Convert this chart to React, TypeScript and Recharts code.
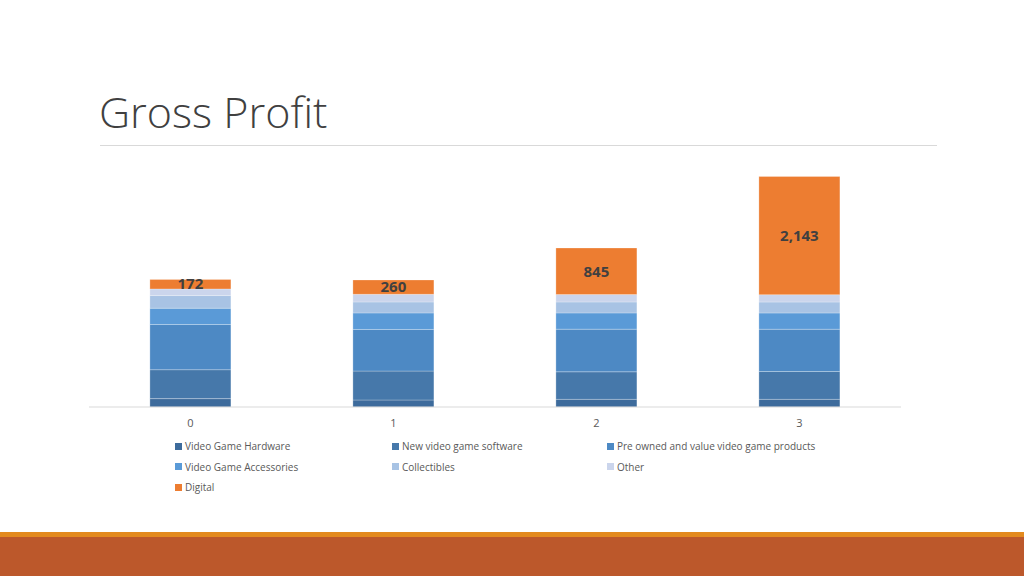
import { BarChart, Bar, XAxis, YAxis, Legend, LabelList } from 'recharts';

const years = ['0', '1', '2', '3'];
const hardware = [152, 127, 139, 139];
const newSoftware = [525, 525, 500, 505];
const preOwned = [820, 755, 773, 767];
const accessories = [295, 300, 295, 295];
const collectibles = [230, 199, 199, 199];
const other = [121, 139, 134, 134];
const digital = [172, 260, 845, 2143];

const seriesList = [
  { key: 'hardware', name: 'Video Game Hardware', color: '#3D6B9C', values: hardware },
  { key: 'newSoftware', name: 'New video game software', color: '#4678AA', values: newSoftware },
  { key: 'preOwned', name: 'Pre owned and value video game products', color: '#4D89C4', values: preOwned },
  { key: 'accessories', name: 'Video Game Accessories', color: '#5A9AD7', values: accessories },
  { key: 'collectibles', name: 'Collectibles', color: '#A8C3E4', values: collectibles },
  { key: 'other', name: 'Other', color: '#CBD5EC', values: other },
  { key: 'digital', name: 'Digital', color: '#ED7D31', values: digital },
];

const data = years.map((year, i) => {
  const row: Record<string, string | number> = { year };
  seriesList.forEach((s) => {
    row[s.key] = s.values[i];
  });
  return row;
});

const fmt = (v: number) => v.toLocaleString('en-US');

const LegendGrid = () => (
  <div
    style={{
      display: 'grid',
      gridTemplateColumns: '217px 215px 260px',
      paddingLeft: 86,
      marginTop: -1,
      fontFamily: '"Open Sans", sans-serif',
      fontSize: 10,
      color: '#595959',
      lineHeight: '20.5px',
    }}
  >
    {seriesList.map((s) => (
      <div key={s.key} style={{ display: 'flex', alignItems: 'center', whiteSpace: 'nowrap' }}>
        <span style={{ width: 7, height: 7, background: s.color, marginRight: 3, display: 'inline-block' }} />
        {s.name}
      </div>
    ))}
  </div>
);

const App = () => {
  return (
    <div style={{ position: 'absolute', left: 0, top: 0, width: 1024, height: 576, background: '#fff', overflow: 'hidden' }}>
      <div
        style={{
          position: 'absolute',
          left: 99,
          top: 84,
          fontFamily: '"Open Sans", sans-serif',
          fontWeight: 300,
          fontSize: 43,
          color: '#404040',
          lineHeight: '56px',
        }}
      >
        Gross Profit
      </div>
      <div style={{ position: 'absolute', left: 100, top: 145, width: 837, height: 1, background: '#D9D9D9' }} />

      <div style={{ position: 'absolute', left: 0, top: 0 }}>
        <BarChart
          width={1024}
          height={520}
          data={data}
          margin={{ top: 159, right: 123, left: 89, bottom: 17 }}
          barCategoryGap="30%"
        >
          <XAxis
            dataKey="year"
            tickLine={false}
            tickMargin={6}
            axisLine={{ stroke: '#D9D9D9' }}
            tick={{ fontSize: 11, fill: '#595959', fontFamily: '"Open Sans", sans-serif' }}
            height={30}
          />
          <YAxis hide domain={[0, 4500]} />
          <Legend verticalAlign="bottom" height={66} content={() => <LegendGrid />} />
          {seriesList.map((s) => (
            <Bar
              key={s.key}
              dataKey={s.key}
              name={s.name}
              stackId="gp"
              fill={s.color}
              stroke="rgba(255,255,255,0.25)"
              strokeWidth={1}
              isAnimationActive={false}
            >
              {s.key === 'digital' && (
                <LabelList
                  dataKey="digital"
                  position="center"
                  formatter={(v: number) => fmt(v)}
                  style={{ fontSize: 15, fontWeight: 700, fill: '#404040', fontFamily: '"Open Sans", sans-serif' }}
                />
              )}
            </Bar>
          ))}
        </BarChart>
      </div>

      <div style={{ position: 'absolute', left: 0, top: 532, width: 1024, height: 5, background: '#E38A1E' }} />
      <div style={{ position: 'absolute', left: 0, top: 537, width: 1024, height: 39, background: '#BC582B' }} />
    </div>
  );
};

export default App;
